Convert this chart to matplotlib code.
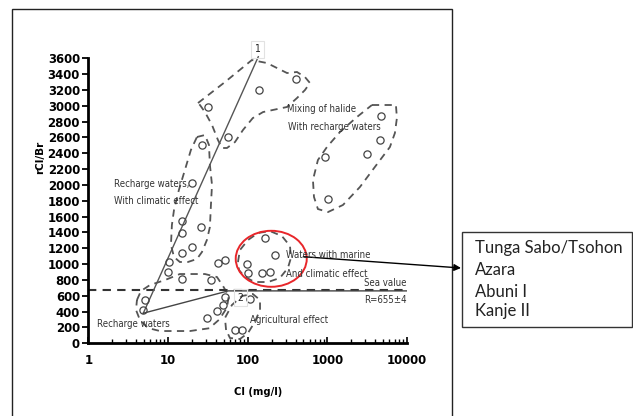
import matplotlib
matplotlib.use("Agg")
import matplotlib.pyplot as plt
from matplotlib import font_manager
from matplotlib.patches import Polygon, Ellipse, Rectangle, FancyArrowPatch
from matplotlib.ticker import LogLocator, NullFormatter

W, H = 633, 416
_names = {f.name for f in font_manager.fontManager.ttflist}
HAVE_NARROW = 'Liberation Sans Narrow' in _names
if HAVE_NARROW:
    NARROW = dict(family=['Liberation Sans Narrow', 'DejaVu Sans'])
    TICK_SIZE, ANN_SIZE = 10, 7.4
else:
    NARROW = dict(family=['DejaVu Sans'], stretch='condensed')
    TICK_SIZE, ANN_SIZE = 9.4, 6.9
BOXFONT = ['Lato', 'DejaVu Sans']

# ---------------- data ----------------
x_ticks = [1, 10, 100, 1000, 10000]
x_tick_labels = ['1', '10', '100', '1000', '10000']
y_ticks = [0, 200, 400, 600, 800, 1000, 1200, 1400, 1600, 1800, 2000,
           2200, 2400, 2600, 2800, 3000, 3200, 3400, 3600]
y_tick_labels = [str(v) for v in y_ticks]

recharge_cl = [5.1, 4.9]
recharge_ratio = [550, 415]
climatic_cl = [10.4, 10, 15, 15, 15, 20, 26, 20, 26.5, 32, 57]
climatic_ratio = [1030, 905, 1540, 1390, 1145, 1220, 1470, 2030, 2510, 2990, 2610]
middle_cl = [15, 35, 43, 52]
middle_ratio = [815, 805, 1010, 1055]
mixing_cl = [139, 404, 4720, 4600, 3180, 935, 1030]
mixing_ratio = [3196, 3339, 2876, 2564, 2396, 2358, 1819]
marine_cl = [165, 220, 97, 101, 150, 190]
marine_ratio = [1326, 1110, 1005, 884, 884, 904]
agri_cl = [31, 41, 49.5, 52, 69, 84, 106]
agri_ratio = [316, 410, 484, 590, 170, 170, 565]

trend1_cl = [4.9, 136]
trend1_ratio = [380, 3620]
trend2_cl = [4.9, 57, 10000]
trend2_ratio = [380, 662, 662]
sea_value = 672

outline_upper_cl = [23.8, 51.9, 113, 175, 312, 416, 524, 605, 524, 416, 312, 156,
                    116, 87.3, 69.3, 55.0, 47.6, 42.4, 35.7, 29.1, 25.2]
outline_upper_ratio = [3035, 3300, 3578, 3540, 3414, 3427, 3363, 3288, 3199, 3098, 2985,
                       2921, 2845, 2694, 2542, 2467, 2467, 2568, 2757, 2921, 3010]
outline_climatic_cl = [23.1, 29.1, 32.7, 33.6, 35.7, 34.6, 33.6, 30.8, 26.7, 23.1,
                       17.8, 14.1, 11.9, 10.9, 11.2, 11.9, 13.7, 16.3, 19.4]
outline_climatic_ratio = [2606, 2631, 2505, 2252, 2000, 1747, 1469, 1305, 1153, 1065,
                          1027, 1027, 1090, 1242, 1494, 1684, 1936, 2189, 2442]
outline_recharge_cl = [4.08, 4.58, 5.94, 9.17, 14.1, 29.1, 41.2, 49.0, 58, 55, 44,
                       33, 18.9, 7.94, 5.61, 4.45, 3.97]
outline_recharge_ratio = [547, 661, 736, 799, 875, 875, 837, 724, 600, 450, 300,
                          190, 155, 155, 193, 294, 421]
outline_agri_cl = [53.6, 51.9, 63.5, 84.8, 116, 143, 143, 123, 101, 80, 60]
outline_agri_ratio = [168, 320, 484, 597, 623, 547, 421, 269, 130, 54, 67]
outline_marine_cl = [75.6, 80, 101, 135, 190, 269, 340, 349, 320, 254, 180, 123, 92.5, 77.8]
outline_marine_ratio = [1027, 1178, 1305, 1393, 1418, 1355, 1229, 1077, 951, 825,
                        774, 774, 837, 926]
outline_mixing_cl = [3630, 7260, 7470, 7050, 6100, 3950, 2565, 1570, 1020, 762, 680,
                     660, 762, 989, 1440, 2350]
outline_mixing_ratio = [3010, 3010, 2846, 2656, 2479, 2227, 1974, 1747, 1658, 1696,
                        1848, 2063, 2315, 2479, 2669, 2858]

box_lines = ['Tunga Sabo/Tsohon', 'Azara', 'Abuni I', 'Kanje II']


def fp(px, py):
    """pixel (from top-left) -> figure fraction"""
    return px / W, 1 - py / H


fig = plt.figure(figsize=(W / 100, H / 100), dpi=100)
fig.patch.set_facecolor('white')
ax = fig.add_axes([88.3 / W, 1 - 343.3 / H, (407 - 88.3) / W, (343.3 - 58.3) / H])
ax.set_xscale('log')
ax.set_xlim(1, 10000)
ax.set_ylim(0, 3600)
for s in ['top', 'right']:
    ax.spines[s].set_visible(False)
for s in ['left', 'bottom']:
    ax.spines[s].set_linewidth(2.0)
    ax.spines[s].set_color('black')

ax.set_xticks(x_ticks)
ax.set_xticklabels(x_tick_labels)
ax.xaxis.set_minor_locator(LogLocator(base=10, subs=range(2, 10)))
ax.xaxis.set_minor_formatter(NullFormatter())
ax.set_yticks(y_ticks)
ax.set_yticklabels(y_tick_labels)
ax.tick_params(axis='x', which='major', direction='in', length=4, width=1.2, pad=8)
ax.tick_params(axis='x', which='minor', direction='in', length=3, width=1.0)
ax.tick_params(axis='y', direction='out', length=4, width=1.3, pad=2)
for lab in ax.get_xticklabels() + ax.get_yticklabels():
    lab.set_fontfamily(NARROW['family'])
    if 'stretch' in NARROW:
        lab.set_fontstretch(NARROW['stretch'])
    lab.set_fontweight('bold')
    lab.set_fontsize(TICK_SIZE)

ax.set_ylabel('rCl/Br', fontfamily='DejaVu Sans', fontweight='bold', fontsize=7.5)
ax.yaxis.set_label_coords(-0.134, 0.654)
ax.set_xlabel('Cl (mg/l)', fontweight='bold', fontsize=8, **NARROW)
ax.xaxis.set_label_coords(0.532, -0.171)
ax.xaxis.label.set_va('center')

dash_col = '#555555'
for ox, oy in [(outline_upper_cl, outline_upper_ratio),
               (outline_climatic_cl, outline_climatic_ratio),
               (outline_recharge_cl, outline_recharge_ratio),
               (outline_agri_cl, outline_agri_ratio),
               (outline_marine_cl, outline_marine_ratio),
               (outline_mixing_cl, outline_mixing_ratio)]:
    ax.add_patch(Polygon(list(zip(ox, oy)), closed=True, fill=False,
                         edgecolor=dash_col, linewidth=1.3, linestyle=(0, (4, 3))))

ax.axhline(sea_value, color='#333333', linewidth=1.5, linestyle=(0, (4, 3)))
ax.plot(trend1_cl, trend1_ratio, color='#555555', linewidth=1.0, clip_on=False)
ax.plot(trend2_cl, trend2_ratio, color='#444444', linewidth=1.0)

for cx, cy in [(recharge_cl, recharge_ratio), (climatic_cl, climatic_ratio),
               (middle_cl, middle_ratio), (mixing_cl, mixing_ratio),
               (marine_cl, marine_ratio), (agri_cl, agri_ratio)]:
    ax.plot(cx, cy, linestyle='none', marker='o', markersize=5.2,
            markerfacecolor='none', markeredgecolor='#444444', markeredgewidth=0.9)

ax.add_patch(Ellipse((0.574, 0.2965), 0.2228, 0.1965, transform=ax.transAxes,
                     fill=False, edgecolor='#e8262a', linewidth=1.4))

# annotations
for s, px, py in [('Recharge waters,', 114.3, 186.7), ('With climatic effect', 114.3, 204.3),
                  ('Mixing of halide', 287.3, 112.3), ('With recharge waters', 288.3, 130),
                  ('Waters with marine', 286, 258.3), ('And climatic effect', 286, 276.7),
                  ('Sea value', 364.3, 286), ('R=655±4', 364.3, 303.3),
                  ('Agricultural effect', 250, 322.7), ('Recharge waters', 96.7, 327.3)]:
    fig.text(*fp(px, py), s, fontsize=ANN_SIZE, color='#333333', va='baseline',
             ha='left', **NARROW)

for s, px, py in [('1', 257.3, 49.3), ('2', 240.7, 297.7)]:
    fig.text(*fp(px, py), s, fontsize=7.5, color='#222222',
             ha='center', va='center',
             bbox=dict(boxstyle='square,pad=0.35', facecolor='none', edgecolor='#e2e2e2', linewidth=0.8),
             **NARROW)

# outer frame
x0, y0 = fp(11.7, 430)
x1, y1 = fp(451.7, 9)
fig.add_artist(Rectangle((x0, y0), x1 - x0, y1 - y0, transform=fig.transFigure,
                         fill=False, edgecolor='#222222', linewidth=1.0))

# right box
bx0, by0 = fp(461.7, 327.3)
bx1, by1 = fp(632.3, 231.7)
fig.add_artist(Rectangle((bx0, by0), bx1 - bx0, by1 - by0, transform=fig.transFigure,
                         facecolor='white', edgecolor='#333333', linewidth=1.0))
for s, py in zip(box_lines, [253.3, 275, 296.7, 316]):
    fig.text(*fp(475, py), s, fontfamily=BOXFONT, fontsize=12, color='#222222',
             va='baseline', ha='left')

fig.add_artist(FancyArrowPatch(fp(303.3, 256.7), fp(461, 268), transform=fig.transFigure,
                               arrowstyle='-|>', mutation_scale=10, color='black',
                               linewidth=1.0, shrinkA=0, shrinkB=0))

fig.savefig('out.png', dpi=100, facecolor='white')
